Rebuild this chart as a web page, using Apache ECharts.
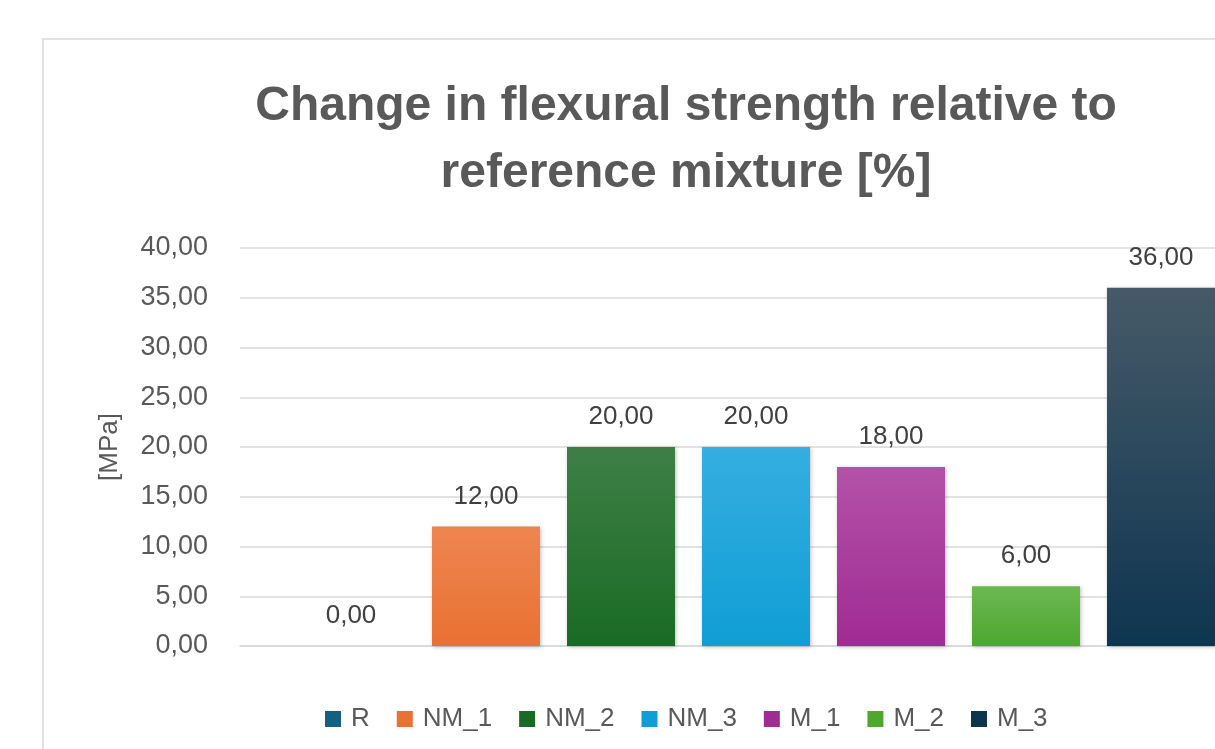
<!DOCTYPE html>
<html><head><meta charset="utf-8">
<script src="https://cdn.jsdelivr.net/npm/echarts@6/dist/echarts.min.js"></script>
<style>html,body{margin:0;padding:0;background:#fff}#c{width:1215px;height:749px}</style>
</head><body><div id="c"></div>
<script>
const seriesNames = ['R','NM_1','NM_2','NM_3','M_1','M_2','M_3'];
const seriesValues = [0, 12, 20, 20, 18, 6, 36];
const categories = [''];
const baseColors = ['#156082','#E97132','#196B24','#0F9ED5','#A02B93','#4EA72E','#0E3550'];
const topColors  = ['#3f7f9c','#ee8550','#3f7f46','#35aee0','#b352a8','#6cb852','#465a68'];
const yTicks = {min:0, max:40, interval:5};

const fmt = v => v.toFixed(2).replace('.', ',');
const FONT = 'Liberation Sans';
const chart = echarts.init(document.getElementById('c'), null, {renderer:'canvas'});
const series = seriesNames.map((n,i)=>({
  name:n, type:'bar', data:[seriesValues[i]],
  barWidth:108, barGap:'25%',
  itemStyle:{color:new echarts.graphic.LinearGradient(0,0,0,1,[{offset:0,color:topColors[i]},{offset:1,color:baseColors[i]}]),
    shadowColor:'rgba(0,0,0,0.25)', shadowBlur:4, shadowOffsetX:1, shadowOffsetY:1},
  label:{show:true, position:'top', distance:17, formatter:p=>fmt(p.value), fontSize:26, color:'#404040', fontFamily:FONT}
}));
chart.setOption({
  animation:false,
  backgroundColor:'#fff',
  graphic:[{type:'rect', shape:{x:43,y:39,width:1300,height:800}, style:{fill:'none', stroke:'#d9d9d9', lineWidth:1.5}, z:-1}],
  title:{text:'Change in flexural strength relative to\nreference mixture [%]', left:681, textAlign:'center', top:68,
    textStyle:{fontSize:48, fontWeight:'bold', color:'#595959', lineHeight:67, fontFamily:FONT}},
  legend:{data:seriesNames.map((n,i)=>({name:n, itemStyle:{color:baseColors[i]}})), left:320, top:701, itemWidth:16, itemHeight:16, itemGap:27,
    icon:'rect', textStyle:{fontSize:26, color:'#595959', fontFamily:FONT, padding:[0,0,0,5]}},
  grid:{left:240, top:248, width:1032, height:398, containLabel:false, outerBoundsMode:'none'},
  xAxis:{type:'category', data:categories, axisLine:{lineStyle:{color:'#d9d9d9', width:1.5}}, axisTick:{show:false}, axisLabel:{show:false}},
  yAxis:{type:'value', min:yTicks.min, max:yTicks.max, interval:yTicks.interval,
    name:'[MPa]', nameLocation:'middle', nameGap:117, nameRotate:90,
    nameTextStyle:{fontSize:26, color:'#595959', fontFamily:FONT},
    axisLabel:{formatter:v=>fmt(v), fontSize:27, color:'#595959', margin:32, fontFamily:FONT},
    splitLine:{lineStyle:{color:'#d9d9d9', width:1.5}}, axisLine:{show:false}, axisTick:{show:false}},
  series
});
</script></body></html>
